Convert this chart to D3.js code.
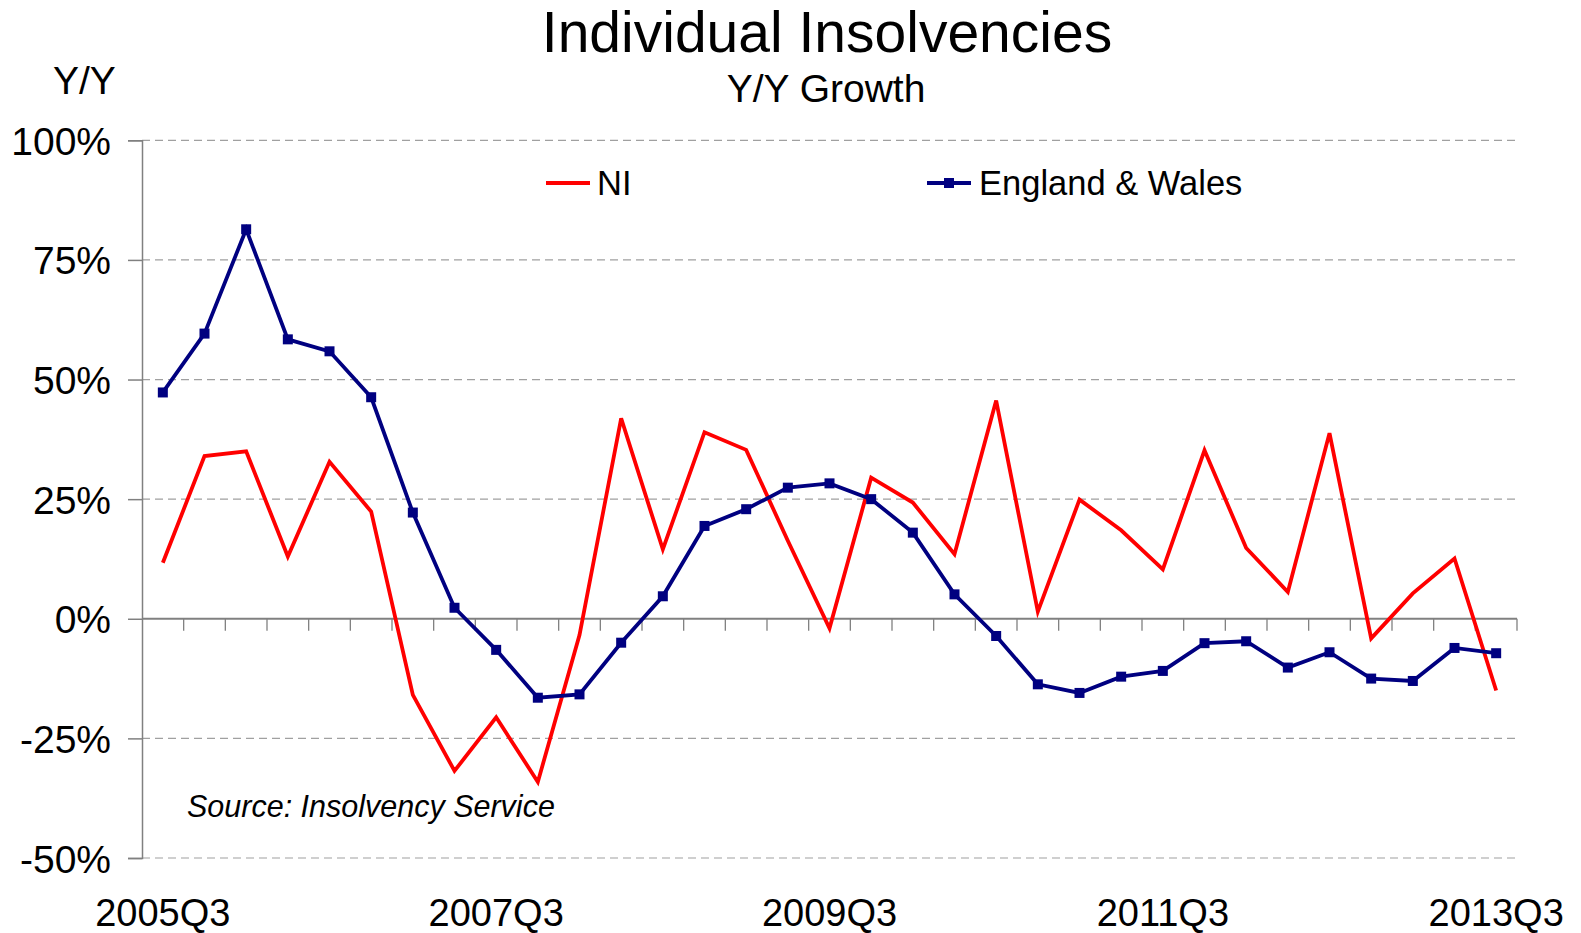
<!DOCTYPE html>
<html>
<head>
<meta charset="utf-8">
<script src="https://cdn.jsdelivr.net/npm/d3@7"></script>
<style>
  html, body { margin: 0; padding: 0; background: #fff; }
  svg { display: block; font-family: "Liberation Sans", Arial, sans-serif; }
</style>
</head>
<body>
<svg id="chart" width="1581" height="933"></svg>
<script>
const categories = [
  "2005Q3","2005Q4","2006Q1","2006Q2","2006Q3","2006Q4",
  "2007Q1","2007Q2","2007Q3","2007Q4","2008Q1","2008Q2","2008Q3","2008Q4",
  "2009Q1","2009Q2","2009Q3","2009Q4","2010Q1","2010Q2","2010Q3","2010Q4",
  "2011Q1","2011Q2","2011Q3","2011Q4","2012Q1","2012Q2","2012Q3","2012Q4",
  "2013Q1","2013Q2","2013Q3"
];
const niValues = [
  11.7, 34.0, 35.0, 13.0, 32.8, 22.4,
  -15.9, -31.8, -20.6, -34.1, -3.4, 41.9, 14.5, 39.0,
  35.3, 16.3, -2.0, 29.5, 24.3, 13.5, 45.6, 1.5,
  24.9, 18.5, 10.3, 35.2, 14.8, 5.6, 38.8, -4.1,
  5.3, 12.6, -15.0
];
const ewValues = [
  47.3, 59.6, 81.4, 58.4, 55.9, 46.3,
  22.2, 2.3, -6.5, -16.5, -15.8, -5.0, 4.7, 19.4,
  22.9, 27.4, 28.3, 25.0, 18.0, 5.1, -3.6, -13.7,
  -15.5, -12.1, -10.9, -5.1, -4.7, -10.2, -7.0, -12.5,
  -13.0, -6.1, -7.2
];
const yTicks = [-50, -25, 0, 25, 50, 75, 100];
const xTickLabels = ["2005Q3", "2007Q3", "2009Q3", "2011Q3", "2013Q3"];
const seriesNames = ["NI", "England & Wales"];

const svg = d3.select("#chart");
const plotLeft = 142, plotRight = 1517, plotTop = 140.3, plotBottom = 858;

const x = d3.scaleBand().domain(categories).range([plotLeft, plotRight]).padding(0);
const y = d3.scaleLinear().domain([-50, 100]).range([plotBottom, plotTop]);
const cx = d => x(d) + x.bandwidth() / 2;

// gridlines (dashed), excluding zero
svg.append("g").selectAll("line").data(yTicks.filter(d => d !== 0)).join("line")
  .attr("x1", plotLeft).attr("x2", plotRight)
  .attr("y1", d => y(d)).attr("y2", d => y(d))
  .attr("stroke", "#a0a0a0").attr("stroke-width", 1.2)
  .attr("stroke-dasharray", "8,5");

// y axis
const yAxis = svg.append("g").attr("transform", `translate(${plotLeft},0)`)
  .call(d3.axisLeft(y).tickValues(yTicks).tickSize(14).tickPadding(17)
    .tickFormat(d => d + "%"));
yAxis.select(".domain").attr("stroke", "#808080").attr("stroke-width", 1.5);
yAxis.selectAll(".tick line").attr("stroke", "#808080").attr("stroke-width", 1.5);
yAxis.selectAll(".tick text").attr("font-size", 39).attr("fill", "#000")
  .attr("font-family", "'Liberation Sans', Arial, sans-serif").attr("dy", "0.36em");

// zero line with ticks at category boundaries
const boundaries = categories.map(c => x(c)).concat([plotRight]);
svg.append("line").attr("x1", plotLeft).attr("x2", plotRight)
  .attr("y1", y(0)).attr("y2", y(0))
  .attr("stroke", "#808080").attr("stroke-width", 2);
svg.append("g").selectAll("line").data(boundaries.slice(1)).join("line")
  .attr("x1", d => d).attr("x2", d => d)
  .attr("y1", y(0)).attr("y2", y(0) + 12)
  .attr("stroke", "#808080").attr("stroke-width", 1.3);

// x labels
svg.append("g").selectAll("text").data(xTickLabels).join("text")
  .attr("x", d => cx(d)).attr("y", 926)
  .attr("text-anchor", "middle").attr("font-size", 38).attr("fill", "#000")
  .text(d => d);

// lines
const line = d3.line().x((d, i) => cx(categories[i])).y(d => y(d));
svg.append("path").datum(niValues).attr("d", line)
  .attr("fill", "none").attr("stroke", "#ff0000").attr("stroke-width", 3.8)
  .attr("stroke-linejoin", "miter");
svg.append("path").datum(ewValues).attr("d", line)
  .attr("fill", "none").attr("stroke", "#000080").attr("stroke-width", 3.8);
const ms = 10;
svg.append("g").selectAll("rect").data(ewValues).join("rect")
  .attr("x", (d, i) => cx(categories[i]) - ms / 2)
  .attr("y", d => y(d) - ms / 2)
  .attr("width", ms).attr("height", ms)
  .attr("fill", "#000080");

// titles
svg.append("text").attr("x", 827).attr("y", 52).attr("text-anchor", "middle")
  .attr("font-size", 57).attr("fill", "#000").text("Individual Insolvencies");
svg.append("text").attr("x", 826).attr("y", 102).attr("text-anchor", "middle")
  .attr("font-size", 39).attr("fill", "#000").text("Y/Y Growth");
svg.append("text").attr("x", 53).attr("y", 94)
  .attr("font-size", 39).attr("fill", "#000").text("Y/Y");

// source
svg.append("text").attr("x", 187).attr("y", 817)
  .attr("font-size", 30.5).attr("font-style", "italic").attr("fill", "#000")
  .text("Source: Insolvency Service");

// legend
const lg = svg.append("g");
lg.append("line").attr("x1", 546).attr("x2", 590).attr("y1", 183).attr("y2", 183)
  .attr("stroke", "#ff0000").attr("stroke-width", 3.8);
lg.append("text").attr("x", 597).attr("y", 195).attr("font-size", 34.5).text(seriesNames[0]);
lg.append("line").attr("x1", 927).attr("x2", 971).attr("y1", 183).attr("y2", 183)
  .attr("stroke", "#000080").attr("stroke-width", 3.8);
lg.append("rect").attr("x", 949 - ms / 2).attr("y", 183 - ms / 2)
  .attr("width", ms).attr("height", ms).attr("fill", "#000080");
lg.append("text").attr("x", 979).attr("y", 195).attr("font-size", 34.5).text(seriesNames[1]);
</script>
</body>
</html>
